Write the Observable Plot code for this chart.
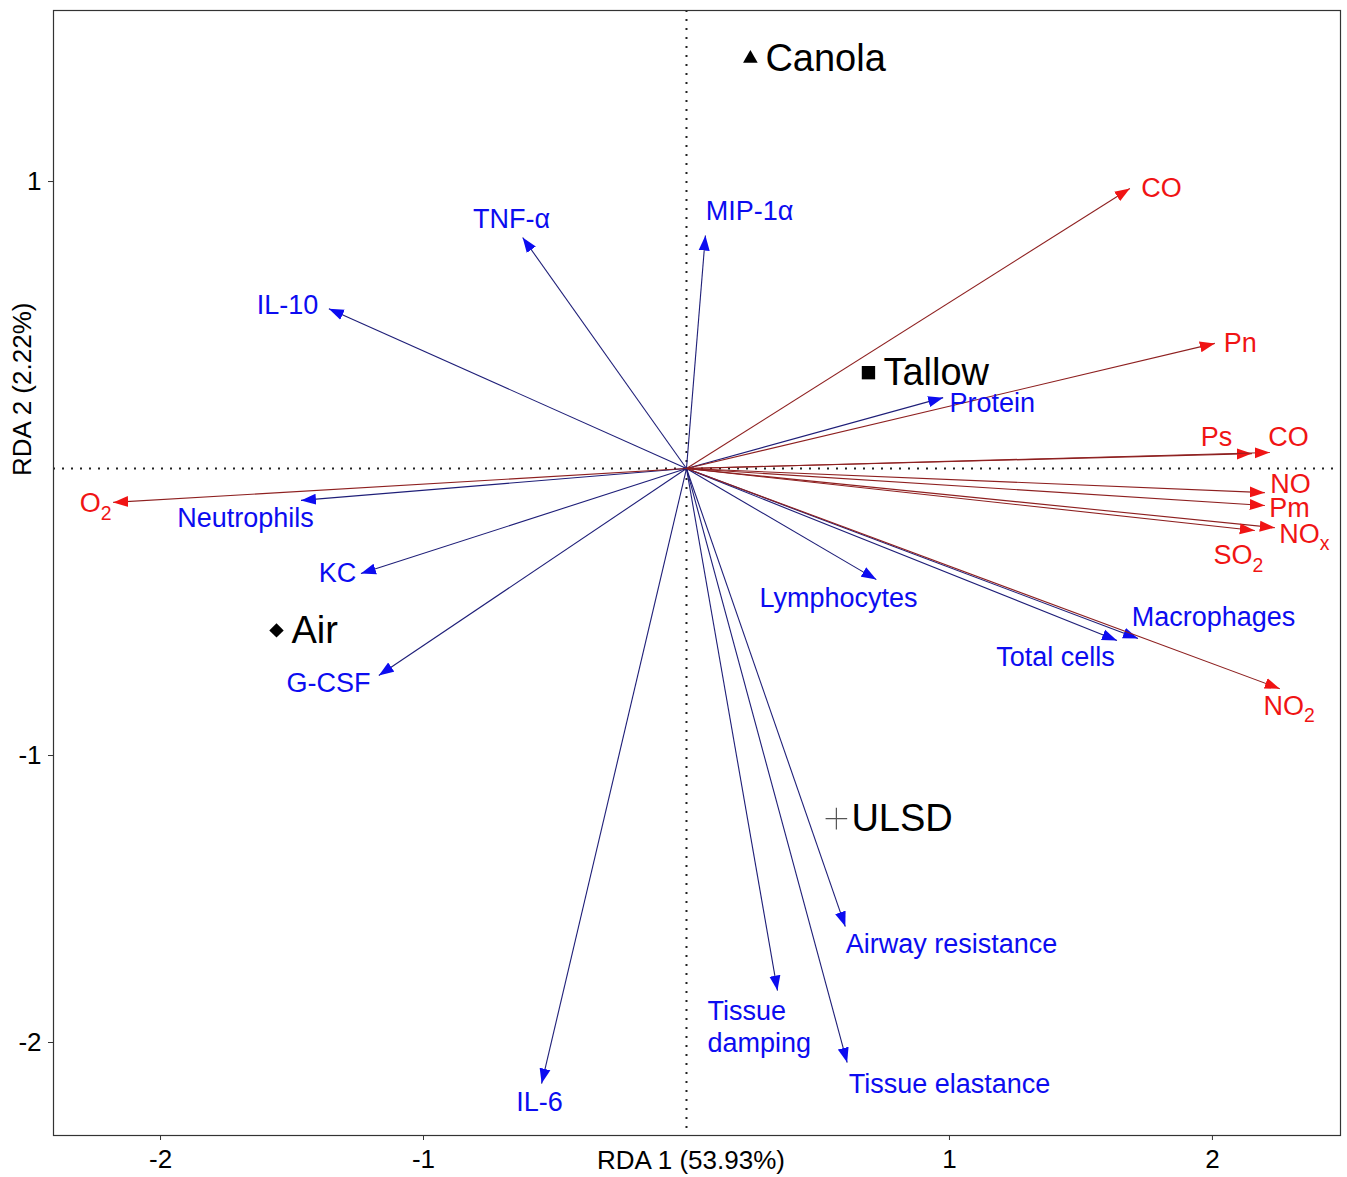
<!DOCTYPE html>
<html><head><meta charset="utf-8">
<script src="https://cdn.jsdelivr.net/npm/d3@7"></script>
<script src="https://cdn.jsdelivr.net/npm/@observablehq/plot@0.6"></script>
<style>body{margin:0;background:#fff} svg{display:block}</style>
</head><body><div id="chart"></div>
<script>
// Environmental (explanatory) variables – red arrows
const envNames = ["CO","Pn","Ps","CO","NO","Pm","NOₓ","SO₂","NO₂","O₂"];
const envX = [1.686, 2.009, 2.150, 2.218, 2.199, 2.199, 2.237, 2.161, 2.256, -2.180];
const envY = [0.976, 0.436, 0.052, 0.056, -0.084, -0.129, -0.206, -0.216, -0.767, -0.118];
const envLabelX = [1.806, 2.106, 2.015, 2.289, 2.297, 2.293, 2.350, 2.099, 2.292, -2.247];
const envLabelY = [0.976, 0.436, 0.108, 0.108, -0.055, -0.140, -0.228, -0.303, -0.829, -0.122];

// Response variables – blue arrows
const respNames = ["TNF-α","MIP-1α","IL-10","Protein","Neutrophils","KC","G-CSF","Lymphocytes",
  "Total cells","Macrophages","Airway resistance","Tissue\ndamping","Tissue elastance","IL-6"];
const respX = [-0.623, 0.072, -1.360, 0.976, -1.466, -1.238, -1.170, 0.722, 1.637, 1.717, 0.604, 0.346, 0.611, -0.551];
const respY = [0.805, 0.812, 0.557, 0.247, -0.111, -0.366, -0.721, -0.387, -0.599, -0.592, -1.596, -1.819, -2.070, -2.143];
const respLabelX = [-0.665, 0.240, -1.517, 1.163, -1.677, -1.327, -1.361, 0.578, 1.403, 2.004, 1.008, 0.080, 1.000, -0.559];
const respLabelY = [0.868, 0.895, 0.568, 0.226, -0.174, -0.366, -0.749, -0.453, -0.659, -0.519, -1.659, -1.941, -2.146, -2.209];
const respLabelAnchor = ["middle","middle","middle","middle","middle","middle","middle","middle",
  "middle","middle","middle","start","middle","middle"];

// Treatments (sites)
const siteNames = ["Canola","Tallow","Air","ULSD"];
const siteX = [0.243, 0.692, -1.559, 0.570];
const siteY = [1.429, 0.334, -0.564, -1.220];

const xTicks = [-2, -1, 1, 2];
const yTicks = [-2, -1, 1];
const xTitle = "RDA 1 (53.93%)";
const yTitle = "RDA 2 (2.22%)";

const env = envNames.map((n, i) => ({name: n, x: envX[i], y: envY[i], lx: envLabelX[i], ly: envLabelY[i]}));
const resp = respNames.map((n, i) => ({name: n, x: respX[i], y: respY[i], lx: respLabelX[i], ly: respLabelY[i], anchor: respLabelAnchor[i]}));
const sites = siteNames.map((n, i) => ({name: n, x: siteX[i], y: siteY[i]}));

const RED = "#f01414", DARKRED = "#8e2020", BLUE = "#0c0cf0", NAVY = "#1e1e78";

function head(fill) {
  return () => {
    const m = d3.create("svg:marker")
      .attr("viewBox", "-15 -6 15 12")
      .attr("markerWidth", 15).attr("markerHeight", 12)
      .attr("markerUnits", "userSpaceOnUse")
      .attr("refX", 0).attr("refY", 0)
      .attr("orient", "auto");
    m.append("path").attr("d", "M-15,-5.5L0,0L-15,5.5Z").attr("fill", fill).attr("stroke", "none");
    return m.node();
  };
}

const siteDot = (name, symbol, r, opts) =>
  Plot.dot(sites.filter(d => d.name === name), {x: "x", y: "y", symbol, r, ...opts});

const labelFont = 27;
const plot = Plot.plot({
  width: 1347, height: 1177,
  marginLeft: 53, marginRight: 7, marginTop: 10, marginBottom: 42,
  x: {domain: [-2.407, 2.487]},
  y: {domain: [-2.324, 1.596]},
  style: {fontFamily: "'Liberation Sans', Arial, sans-serif", background: "white", color: "black"},
  marks: [
    Plot.ruleX([0], {stroke: "#222", strokeWidth: 2, strokeDasharray: "2,7"}),
    Plot.ruleY([0], {stroke: "#222", strokeWidth: 2, strokeDasharray: "2,7"}),
    Plot.link(resp, {x1: () => 0, y1: () => 0, x2: "x", y2: "y", stroke: NAVY, strokeWidth: 1.1, markerEnd: head(BLUE)}),
    Plot.link(env, {x1: () => 0, y1: () => 0, x2: "x", y2: "y", stroke: DARKRED, strokeWidth: 1.1, markerEnd: head(RED)}),
    Plot.text(env, {x: "lx", y: "ly", text: "name", fill: RED, fontSize: labelFont}),
    Plot.text(resp.filter(d => d.anchor === "middle"), {x: "lx", y: "ly", text: "name", fill: BLUE, fontSize: labelFont}),
    Plot.text(resp.filter(d => d.anchor === "start"), {x: "lx", y: "ly", text: "name", fill: BLUE, fontSize: labelFont, textAnchor: "start", lineHeight: 1.18}),
    siteDot("Canola", "triangle2", 7, {fill: "black"}),
    siteDot("Tallow", "square2", 8.5, {fill: "black"}),
    siteDot("Air", "diamond2", 6.5, {fill: "black"}),
    siteDot("ULSD", "plus", 7, {stroke: "#555", strokeWidth: 1.2, fill: "none"}),
    Plot.text(sites, {x: "x", y: "y", text: "name", textAnchor: "start", dx: 15, fontSize: 38, fill: "black"}),
    Plot.frame({stroke: "#333", strokeWidth: 1.2}),
    Plot.axisX({ticks: xTicks, tickFormat: d => String(d), tickSize: 5, tickPadding: 9, fontSize: 26, label: null, stroke: "#333"}),
    Plot.axisY({ticks: yTicks, tickFormat: d => String(d), tickSize: 5, tickPadding: 7, fontSize: 26, label: null, stroke: "#333"}),
    Plot.text([xTitle], {frameAnchor: "bottom", dy: 33, dx: -6, fontSize: 26, text: d => d, fill: "black"}),
    Plot.text([yTitle], {frameAnchor: "left", dx: -31, dy: -97, rotate: -90, fontSize: 26, text: d => d, fill: "black"})
  ]
});

// Render chemical subscripts (₂, ₓ) as real lowered, smaller tspans
const subs = {"₂": "2", "ₓ": "x"};
d3.select(plot).selectAll("text").each(function () {
  if (this.querySelector("tspan")) return;
  const t = this.textContent;
  const m = t.match(/^(.+?)([₂ₓ])$/);
  if (!m) return;
  const sel = d3.select(this).text(null);
  sel.append("tspan").text(m[1]);
  sel.append("tspan").attr("font-size", "0.72em").attr("dy", "0.38em").text(subs[m[2]]);
});
document.getElementById("chart").append(plot);
</script>
</body></html>
